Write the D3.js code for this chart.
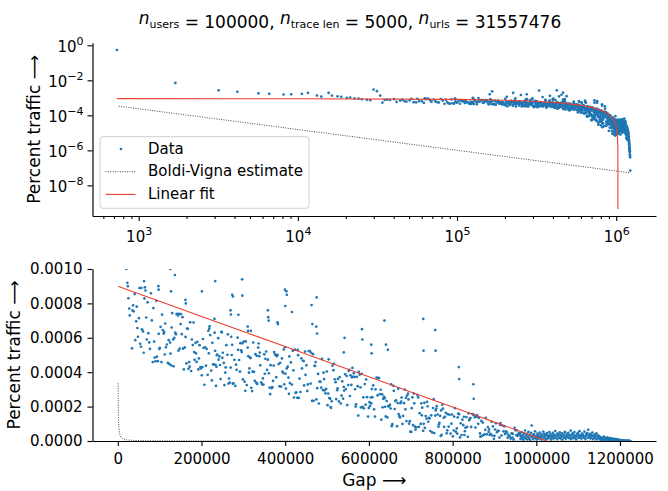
<!DOCTYPE html>
<html>
<head>
<meta charset="utf-8">
<script src="https://cdn.jsdelivr.net/npm/d3@7"></script>
<style>
  body { margin: 0; background: #fff; }
  text { font-family: "DejaVu Sans", sans-serif; fill: #000; }
</style>
</head>
<body>
<svg id="chart" width="668" height="491"></svg>
<script>
// gap in thousands, percent traffic in units of 1e-6
const dataPoints = [
  [0.73,540000],[1.70,7100],[3.18,2700],[4.17,2200],[5.66,1800],[6.61,1700],[8.13,1550],[9.08,1600],[10.6,1700],[11.57,1900],
  [13.18,1350],[14.03,1180],[15.6,1900],[16.37,1350],[17.75,1230],[18.74,1150],[20.33,1000],[21.33,1040],[22.7,920],[24.05,900],
  [25.24,830],[27.15,770],[28.5,730],[29.9,3000],[31.4,2400],[32.9,1350],
  [34.0,539],[35.15,759],[36.45,789],[37.9,754],[40.25,854],[41.7,586],[43.9,696],[45.2,781],[46.65,657],[48.1,606],
  [50.45,714],[51.75,889],[53.35,565],[55.4,548],[57.75,649],[60.1,637],[61.85,513],[63.6,829],[64.6,893],[66.2,875],
  [67.8,718],[69.1,590],[71.15,806],[73.05,627],[74.95,573],[76.85,536],[79.05,859],[81.25,701],[83.45,459],[85.05,773],
  [86.8,578],[88.1,485],[90.15,463],[92.2,815],[93.5,490],[95.7,464],[97.6,623],[99.05,535],[100.35,541],[102.25,664],
  [104.3,459],[105.75,735],[107.35,645],[109.7,624],[110.7,634],[112.0,503],[113.15,683],[114.9,545],[117.25,561],[119.45,454],
  [121.65,586],[122.8,448],[124.85,572],[125.85,508],[127.45,440],[128.75,660],[129.9,744],[132.1,590],[133.25,434],[135.0,599],
  [137.35,630],[138.95,620],[140.25,738],[142.45,739],[144.05,730],[145.05,526],[146.2,739],[147.8,537],[150.0,680],[151.0,738],
  [152.75,621],[154.5,720],[155.95,537],[157.85,416],[160.05,544],[161.8,605],[164.0,451],[165.45,654],[167.35,652],[168.8,420],
  [170.55,459],[171.7,432],[172.85,690],[175.2,407],[176.95,590],[179.15,558],[181.05,689],[182.5,517],[183.5,472],[185.7,570],
  [186.7,510],[188.3,460],[190.2,577],[192.4,416],[193.85,480],[195.3,557],[197.35,429],[198.35,421],[200.7,382],[201.85,429],
  [203.3,593],[204.9,541],[206.95,327],[208.85,544],[210.75,438],[212.5,535],[214.7,385],[216.3,641],[217.45,510],[218.45,653],
  [219.45,667],[220.75,616],[223.1,410],[224.7,352],[225.85,571],[227.6,446],[229.2,445],[231.25,630],[232.55,524],[233.55,443],
  [234.55,320],[235.7,431],[236.7,499],[237.7,502],[239.9,598],[240.9,473],[242.8,492],[243.95,442],[245.55,360],[247.45,635],
  [248.6,631],[249.75,483],[250.9,513],[253.25,454],[254.7,325],[256.75,398],[257.75,428],[259.5,557],[261.85,501],[263.0,620],
  [264.45,334],[265.75,363],[267.65,339],[269.7,427],[270.85,606],[272.15,500],[273.3,559],[274.75,333],[276.5,335],[278.7,472],
  [280.9,320],[282.5,444],[283.8,414],[286.15,601],[287.45,530],[289.8,471],[291.85,403],[293.0,569],[294.75,527],[296.05,517],
  [297.65,568],[298.8,358],[300.85,578],[303.05,345],[304.5,292],[305.65,579],[308.0,325],[310.35,543],[311.8,493],[313.25,397],
  [314.55,422],[315.55,486],[317.45,482],[318.9,309],[320.8,290],[321.95,403],[323.55,572],[325.45,402],[327.2,350],[328.8,505],
  [330.85,339],[331.85,495],[333.15,332],[335.5,543],[336.5,567],[337.95,493],[339.25,514],[340.25,440],[342.6,341],[344.65,329],
  [346.55,364],[348.0,328],[349.9,504],[351.2,391],[352.8,478],[354.4,520],[356.6,413],[358.65,473],[361.0,394],[362.75,311],
  [364.05,272],[365.05,441],[367.25,307],[369.3,313],[371.05,349],[372.5,439],[373.5,517],[375.55,504],[377.3,500],[378.45,371],
  [379.75,493],[381.8,501],[384.15,447],[386.5,318],[387.95,455],[390.0,317],[392.2,480],[393.35,403],[395.55,396],[396.55,532],
  [397.7,330],[399.3,545],[400.75,391],[401.75,305],[403.65,422],[406.0,432],[407.75,369],[408.9,274],[409.9,492],[411.2,337],
  [413.55,457],[415.9,328],[418.1,525],[419.55,411],[420.85,253],[423.2,531],[425.1,280],[426.4,283],[428.75,251],[429.9,530],
  [430.9,499],[432.5,251],[434.1,363],[436.3,285],[438.65,480],[440.1,422],[442.45,466],[444.05,465],[445.2,323],[447.55,520],
  [448.55,384],[450.75,440],[452.8,291],[453.95,329],[456.3,523],[458.65,522],[460.85,334],[462.15,513],[464.35,233],[466.7,505],
  [467.85,234],[470.2,437],[471.35,436],[472.65,459],[474.55,242],[476.45,307],[478.65,390],[480.4,218],[482.0,346],[484.35,344],
  [486.1,310],[488.0,477],[490.2,296],[491.5,397],[492.8,360],[494.1,294],[496.3,277],[497.75,303],[499.35,404],[501.1,208],
  [502.85,276],[504.0,475],[505.15,250],[507.35,246],[508.5,197],[509.5,193],[510.95,231],[513.0,438],[515.2,412],[516.5,449],
  [518.4,359],[520.45,342],[521.9,244],[524.1,295],[525.25,306],[526.25,361],[528.3,230],[530.35,372],[532.7,218],[534.75,264],
  [536.2,347],[538.4,246],[539.85,315],[540.85,293],[543.05,388],[544.8,302],[547.0,378],[548.15,209],[550.5,325],[551.8,408],
  [553.25,413],[554.55,261],[556.0,382],[558.05,326],[559.5,370],[560.65,425],[562.7,375],[563.85,394],[565.9,372],[566.9,301],
  [568.2,200],[569.35,213],[571.25,373],[573.15,319],[574.6,148],[575.75,402],[577.8,386],[579.7,312],[580.85,195],[582.6,390],
  [584.95,198],[586.85,254],[587.85,190],
  [590.05,331],[592.25,211],[593.4,358],[595.6,255],[597.95,142],[599.7,192],[601.45,226],[602.45,204],[604.5,253],[605.65,219],
  [606.95,302],[608.25,255],[610.3,323],[612.35,184],[614.4,142],[615.85,301],[618.2,369],[620.55,265],[622.15,367],[624.05,365],
  [626.1,273],[628.15,298],[629.75,124],[631.65,271],[632.65,196],[634.1,245],[636.15,256],[637.75,249],[638.9,199],[640.2,143],
  [642.4,232],[644.15,137],[646.05,203],[648.1,201],[650.15,210],[652.05,189],[653.2,329],[654.5,86],[655.95,98],[658.3,321],
  [659.45,292],[661.5,186],[662.95,232],[664.85,237],[667.2,86],[668.65,221],[669.95,304],[670.95,157],[672.55,146],[674.3,137],
  [675.3,220],[677.05,229],[678.05,253],[680.25,99],[681.55,146],[683.75,220],[685.8,299],[687.25,184],[688.25,251],[689.7,116],
  [691.15,264],[693.5,276],[694.5,242],[695.95,101],[697.7,115],[698.85,54],[701.2,53],[702.35,191],[703.8,254],[705.4,92],
  [707.45,276],[708.45,219],[709.75,83],[711.35,66],[713.7,80],[716.05,267],[717.65,254],[719.25,82],[721.3,162],[723.65,99],
  [725.25,219],[726.4,149],[727.4,194],[729.6,59],[730.9,100],[732.5,222],[733.5,76],[735.7,145],[737.75,130],[738.9,228],
  [740.35,202],[741.65,112],[743.4,134],[744.7,131],[746.75,58],[748.8,149],[751.15,50],[753.2,192],[754.8,243],[756.1,46],
  [758.45,148],[759.6,178],[760.9,189],[762.05,203],[764.25,154],[766.15,83],[767.3,97],[768.45,106],[770.05,146],[771.5,29],
  [772.5,178],[773.8,36],[775.4,211],[776.85,188],[778.75,135],[779.75,82],[781.8,141],[783.7,164],[785.75,45],[787.2,62],
  [788.2,156],[790.55,83],[792.75,152],[795.1,43],[797.15,101],[798.6,154],[800.65,27],[802.7,61],[803.7,142],[805.6,191],
  [807.65,54],[810.0,73],[811.0,43],[812.15,137],[813.45,160],[815.35,156],[817.7,21],[819.45,103],[821.2,35],[823.4,124],
  [825.45,92],[826.9,141],[828.2,35],[829.35,57],[830.65,77],[833.0,139],[834.6,82],[836.35,24],[838.25,161],[839.7,121],
  [841.6,132],[842.6,133],[844.35,82],[846.7,157],[849.05,155],[851.1,150],[853.0,138],[854.6,78],[856.2,141],[857.95,151],
  [860.0,142],[861.15,100],[863.05,134],[865.4,44],[866.4,25],[868.6,117],[870.05,29],[872.1,107],[874.0,35],[876.2,39],
  [877.95,65],[879.55,135],[881.9,39],[884.25,81],[886.15,53],[887.3,68],[888.6,35],[890.8,41],[893.15,112],[894.9,32],
  [896.35,85],[898.55,13],[900.0,30],[901.3,67],[903.5,103],[905.85,51],[908.05,61],[909.95,58],[911.7,20],[913.45,93],
  [914.45,104],[916.8,32],[919.15,90],[921.5,56],[923.7,86],[925.15,40],[926.15,43],[927.45,56],[929.8,50],[931.25,19],
  [933.3,36],[934.45,30],[936.65,26],[938.7,13],[940.9,44],[942.8,20],[943.8,41],[945.85,9],[948.2,77],[950.25,63],
  [952.6,34],[953.6,62],[955.05,30],[956.35,37],[958.25,44],[959.85,44],
  [960.6,38],[962.3,12],[963.0,27],[964.7,51],[966.4,19],[967.1,34],[968.8,8],[970.5,44],[971.2,23],[972.9,61],
  [974.6,15],[975.3,31],[977.0,41],[978.7,10],[979.4,26],[981.1,53],[982.8,18],[983.5,36],[985.2,7],[986.9,29],
  [987.6,47],[988.9,90],[990.3,21],[992.0,33],[992.7,12],[994.4,40],[996.1,25],[996.8,56],[998.5,16],[1000.2,30],
  [1000.9,9],[1002.6,43],[1004.3,22],[1005.0,35],[1006.7,13],[1008.4,49],[1009.1,27],[1010.8,18],[1012.5,38],[1013.2,8],
  [1014.9,31],[1016.6,55],[1017.3,20],[1019.0,42],[1020.7,14],[1021.4,28],[1023.1,37],[1024.8,11],[1025.5,46],[1027.2,24],
  [1028.9,33],[1029.6,16],[1031.3,52],[1033.0,26],[1033.7,40],[1035.4,9],[1037.1,31],[1037.8,21],[1039.5,47],[1041.2,14],
  [1041.9,36],[1043.6,25],[1045.3,58],[1046.0,18],[1047.7,32],[1049.4,43],[1050.1,11],[1051.8,27],[1053.5,39],[1054.2,20],
  [1055.9,50],[1057.6,15],[1058.3,34],[1060.0,23],[1061.7,45],[1062.4,8],[1064.1,29],[1065.8,37],[1066.5,19],[1068.2,53],
  [1069.9,26],[1070.6,13],[1072.3,41],[1074.0,30],[1074.7,22],[1076.4,48],[1078.1,17],[1078.8,35],[1080.5,27],[1082.2,60],
  [1082.9,12],[1084.6,38],[1086.3,24],[1087.0,44],[1088.7,16],[1090.4,33],[1091.1,52],[1092.8,21],[1094.5,29],[1095.2,10],
  [1096.9,40],[1098.6,26],[1099.3,47],[1101.0,18],[1102.7,35],[1103.4,57],[1105.1,23],[1106.8,31],[1107.5,14],[1109.2,43],
  [1110.9,28],[1111.6,37],[1113.3,20],[1115.0,54],[1115.7,25],[1117.4,12],[1119.1,39],[1119.8,30],[1121.5,46],[1123.2,19],
  [1124.1,65],[1125.6,33],[1127.3,22],[1128.0,41],[1129.7,15],[1131.4,36],[1132.1,27],[1133.8,49],[1135.5,11],[1136.2,30],
  [1137.9,21],[1139.6,38],[1140.3,16],[1142.0,29],[1143.7,44],[1144.4,9],[1146.1,24],[1147.8,33],[1148.5,18],[1150.2,27],
  [1151.3,12],[1153.0,22],[1153.7,8],[1155.4,16],[1157.1,5],[1157.8,19],[1159.5,11],[1161.2,25],[1161.9,7],[1163.6,14],
  [1165.3,9],[1166.0,18],[1167.7,6],[1169.4,13],[1170.1,21],[1171.8,8],[1173.5,15],[1174.2,4],[1175.9,11],[1177.6,17],
  [1178.3,6],[1180.0,10],[1181.7,14],[1182.4,5],[1184.1,9],[1185.8,12],[1186.5,4],[1188.2,8],[1189.9,11],[1190.6,6],
  [1192.3,7.5],[1194.0,4],[1194.7,9],[1196.4,5.5],[1198.1,3.5],[1198.8,6],[1200.5,4.5],[1202.2,2.8],[1202.9,3.8],[1204.6,2.2],
  [1206.3,3],[1207.0,1.6],[1208.7,2.4],[1210.4,1.3],[1211.1,1.8],[1212.8,1.0],[1214.5,1.4],[1215.2,0.8],[1216.9,1.1],[1218.6,0.6],
  [1219.3,0.9],[1221.0,0.5],[1222.7,0.4],[1225.0,0.07],
  // stray high points
  [56.3,890],[62.7,930],[96.9,900],[97.4,880],[125.5,1000],[127.1,870],[136.4,965],[160.5,1600],[161.6,820],[162.5,800],
  [166.1,2350],[201.0,870],[205.5,1150],[225.3,1900],[230.9,710],[232.7,930],[252.0,1450],[269.2,760],[270.3,735],[273.5,850],
  [274.3,1600],[275.3,840],[288.2,734],[297.0,940],[297.5,845],[310.4,665],[311.3,640],[317.8,640],[328.0,2600],[345.0,1100],
  [358.5,760],[359.4,720],[360.4,700],[381.6,690],[382.6,680],[383.5,1300],[399.2,880],[400.1,785],[402.9,870],[403.8,850],
  [415.9,750],[423.3,2700],[437.0,1200],[452.8,1500],[463.0,790],[463.9,2000],[464.9,680],[474.1,665],[475.1,835],[476.0,625],
  [487.9,1250],[539.9,515],[541.8,600],[583.4,650],[584.3,590],[605.6,560],[606.5,510],[637.1,700],[640.8,560],[645.4,530],
  [729.9,710],[730.5,525],[758.4,645],[759.3,525],[814.8,430],[815.7,360],[849.5,330],[850.4,245]
];

// linear fit (gap in thousands, traffic in 1e-6)
const fitGapK = [0.73, 10, 100, 200, 300, 400, 500, 600, 700, 800, 850, 900, 925, 950, 975, 990, 1000, 1005, 1010, 1015, 1020, 1022, 1024, 1024.9, 1024.999, 1024.9995];
const fitE6   = [899.4, 891.2, 812.2, 724.4, 636.6, 548.8, 461.0, 373.2, 285.4, 197.6, 153.7, 109.8, 87.8, 65.9, 43.9, 30.7, 22.0, 17.6, 13.2, 8.78, 4.39, 2.63, 0.88, 0.088, 0.00088, 0.00044];

// Boldi-Vigna estimate
const bvGapK = [0.75, 1, 1.5, 2, 3, 5, 8, 12, 20, 35, 60, 100, 200, 400, 700, 1220];
const bvE6   = [335, 238, 147, 104.7, 64.7, 35.3, 20.2, 12.5, 6.82, 3.51, 1.85, 1.01, 0.445, 0.195, 0.101, 0.052];

const topXTicks = [1e3, 1e4, 1e5, 1e6];
const topYTicks = [1e0, 1e-2, 1e-4, 1e-6, 1e-8];
const bottomXTicks = [0, 200000, 400000, 600000, 800000, 1000000, 1200000];
const bottomYTicks = [0, 0.0002, 0.0004, 0.0006, 0.0008, 0.0010];
const legendLabels = ['Data', 'Boldi-Vigna estimate', 'Linear fit'];

const blue = '#1f77b4', red = '#ee3f30', dotted = '#333';

const svg = d3.select('#chart');

const gapOf = d => d[0] * 1000;
const valOf = d => d[1] / 1e6;
const fitData = fitGapK.map((g, i) => [g * 1000, fitE6[i] / 1e6]);
const bvData = bvGapK.map((g, i) => [g * 1000, bvE6[i] / 1e6]);

// title
const title = svg.append('text').attr('x', 350).attr('y', 24).attr('text-anchor', 'middle').style('font-size', '17px');
function nSub(sub, rest, first) {
  title.append('tspan').attr('font-style', 'italic').attr('dy', first ? 0 : -4).text((first ? '' : ' ') + 'n');
  title.append('tspan').attr('font-size', '11px').attr('dy', 4).text(sub);
  title.append('tspan').attr('dy', 0).text(rest);
}
nSub('users', ' = 100000,', true);
nSub('trace len', ' = 5000,', false);
nSub('urls', ' = 31557476', false);

function styleAxis(g) {
  g.selectAll('.domain').attr('stroke', '#000').attr('stroke-width', 1.2);
  g.selectAll('.tick line').attr('stroke', '#000').attr('stroke-width', 1.1);
  g.selectAll('.tick text').style('font-size', '15px').style('font-family', '"DejaVu Sans", sans-serif').attr('fill', '#000');
}

function powLabels(g) {
  g.selectAll('.tick text').each(function (d) {
    const t = d3.select(this);
    const e = Math.round(Math.log10(d));
    t.text(null);
    t.append('tspan').text('10');
    t.append('tspan').attr('dy', -7).style('font-size', '11px').text(e < 0 ? '\u2212' + (-e) : String(e));
  });
}

// ---------- top: log-log ----------
const L = 92.5, R = 656;
const topBox = { t: 42.7, b: 216 };
const xTop = d3.scaleLog().domain([Math.pow(10, 2.71), Math.pow(10, 6.25)]).range([L, R]);
const yTop = d3.scaleLog().domain([Math.pow(10, -9.75), Math.pow(10, 0.15)]).range([topBox.b, topBox.t]);

const minorTop = xTop.ticks().filter(d => Math.abs(Math.log10(d) - Math.round(Math.log10(d))) > 1e-6);
const gxMinor = svg.append('g').attr('transform', `translate(0,${topBox.b})`)
  .call(d3.axisBottom(xTop).tickValues(minorTop).tickFormat('').tickSize(3).tickSizeOuter(0));
gxMinor.select('.domain').remove();
styleAxis(gxMinor);

const gxTop = svg.append('g').attr('transform', `translate(0,${topBox.b})`)
  .call(d3.axisBottom(xTop).tickValues(topXTicks).tickSize(5).tickPadding(7).tickSizeOuter(0));
styleAxis(gxTop);
powLabels(gxTop);
gxTop.selectAll('.tick text').attr('dy', '0.95em');

const gyTop = svg.append('g').attr('transform', `translate(${L},0)`)
  .call(d3.axisLeft(yTop).tickValues(topYTicks).tickSize(5).tickPadding(4).tickSizeOuter(0));
styleAxis(gyTop);
powLabels(gyTop);
gyTop.selectAll('.tick text').attr('dy', '0.38em');

svg.append('clipPath').attr('id', 'clipTop').append('rect')
  .attr('x', L).attr('y', topBox.t).attr('width', R - L).attr('height', topBox.b - topBox.t);

const pTop = svg.append('g').attr('clip-path', 'url(#clipTop)');
pTop.append('path').datum(bvData)
  .attr('d', d3.line().x(d => xTop(d[0])).y(d => yTop(d[1])))
  .attr('fill', 'none').attr('stroke', dotted).attr('stroke-width', 0.9).attr('stroke-dasharray', '1,1.4');
pTop.selectAll('circle').data(dataPoints).join('circle')
  .attr('cx', d => xTop(gapOf(d))).attr('cy', d => yTop(valOf(d))).attr('r', 1.35).attr('fill', blue);
pTop.append('path').datum(fitData)
  .attr('d', d3.line().x(d => xTop(d[0])).y(d => yTop(d[1])))
  .attr('fill', 'none').attr('stroke', red).attr('stroke-width', 1.1);

svg.append('text').attr('transform', `translate(40,${(topBox.t + topBox.b) / 2}) rotate(-90)`)
  .attr('text-anchor', 'middle').style('font-size', '17px').text('Percent traffic \u27F6');

// legend
const lg = svg.append('g');
lg.append('rect').attr('x', 100).attr('y', 136.7).attr('width', 209).attr('height', 71.6)
  .attr('rx', 3).attr('fill', '#fff').attr('fill-opacity', 0.8).attr('stroke', '#d0d0d0').attr('stroke-width', 1);
const rowY = [153.5, 176.2, 198.9];
lg.append('circle').attr('cx', 121).attr('cy', rowY[0] - 4.5).attr('r', 1.35).attr('fill', blue);
lg.append('line').attr('x1', 105.5).attr('x2', 135.5).attr('y1', rowY[1] - 4.5).attr('y2', rowY[1] - 4.5)
  .attr('stroke', dotted).attr('stroke-width', 0.9).attr('stroke-dasharray', '1,1.4');
lg.append('line').attr('x1', 105.5).attr('x2', 135.5).attr('y1', rowY[2] - 4.5).attr('y2', rowY[2] - 4.5)
  .attr('stroke', red).attr('stroke-width', 1.1);
lg.selectAll('text.lab').data(legendLabels).join('text').attr('class', 'lab')
  .attr('x', 148).attr('y', (d, i) => rowY[i]).style('font-size', '15px').text(d => d);

// ---------- bottom: linear ----------
const botBox = { t: 269, b: 441 };
const xBot = d3.scaleLinear().domain([-60500, 1286000]).range([L, R]);
const yBot = d3.scaleLinear().domain([0, 0.001]).range([botBox.b, botBox.t]);

const gxBot = svg.append('g').attr('transform', `translate(0,${botBox.b})`)
  .call(d3.axisBottom(xBot).tickValues(bottomXTicks).tickFormat(d => String(d)).tickSize(5).tickPadding(7).tickSizeOuter(0));
styleAxis(gxBot);
gxBot.selectAll('.tick text').attr('dy', '0.75em');

const gyBot = svg.append('g').attr('transform', `translate(${L},0)`)
  .call(d3.axisLeft(yBot).tickValues(bottomYTicks).tickFormat(d3.format('.4f')).tickSize(5).tickPadding(5).tickSizeOuter(0));
styleAxis(gyBot);

svg.append('clipPath').attr('id', 'clipBot').append('rect')
  .attr('x', L).attr('y', botBox.t).attr('width', R - L).attr('height', botBox.b - botBox.t);

const pBot = svg.append('g').attr('clip-path', 'url(#clipBot)');
pBot.append('path').datum(bvData)
  .attr('d', d3.line().x(d => xBot(d[0])).y(d => yBot(d[1])))
  .attr('fill', 'none').attr('stroke', dotted).attr('stroke-width', 0.9).attr('stroke-dasharray', '1,1.4');
pBot.selectAll('circle').data(dataPoints).join('circle')
  .attr('cx', d => xBot(gapOf(d))).attr('cy', d => yBot(valOf(d))).attr('r', 1.35).attr('fill', blue);
pBot.append('path').datum(fitData)
  .attr('d', d3.line().x(d => xBot(d[0])).y(d => yBot(d[1])))
  .attr('fill', 'none').attr('stroke', red).attr('stroke-width', 1.1);

svg.append('text').attr('transform', `translate(20,${(botBox.t + botBox.b) / 2}) rotate(-90)`)
  .attr('text-anchor', 'middle').style('font-size', '17px').text('Percent traffic \u27F6');
svg.append('text').attr('x', (L + R) / 2).attr('y', 486).attr('text-anchor', 'middle')
  .style('font-size', '17px').text('Gap \u27F6');
</script>
</body>
</html>
